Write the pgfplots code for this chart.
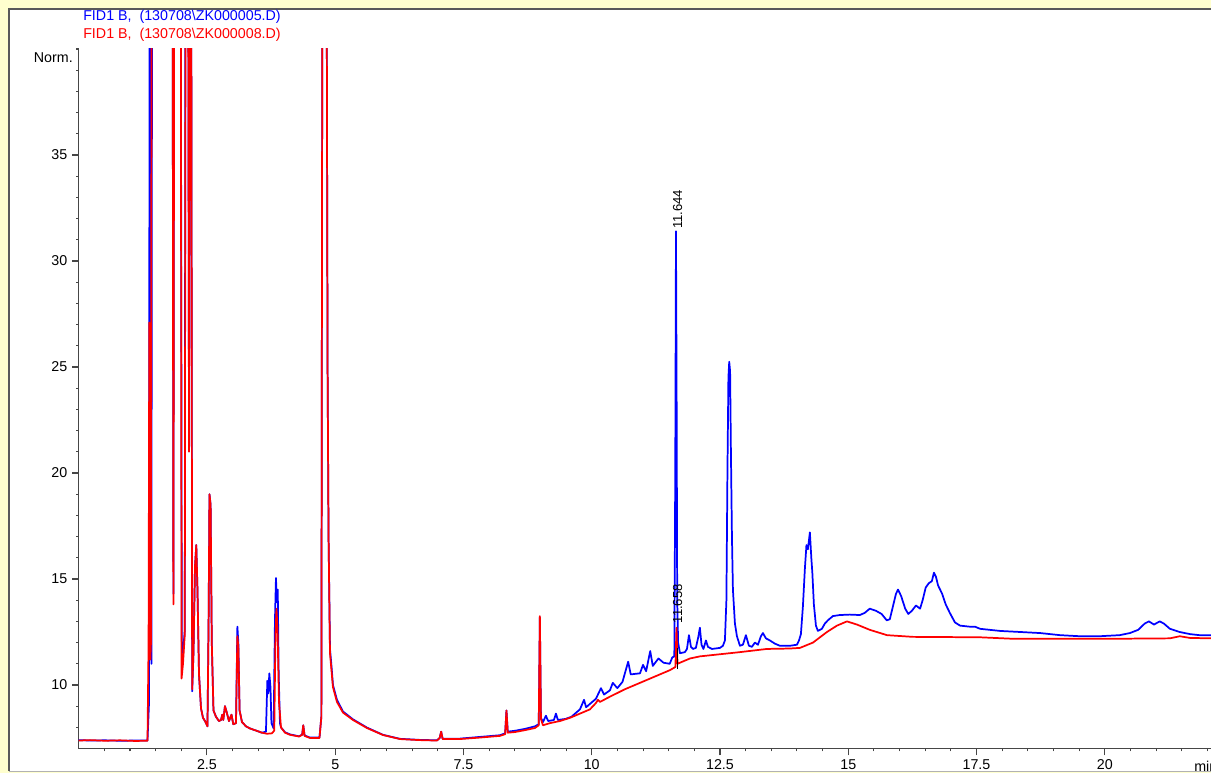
\documentclass[border=0pt]{standalone}
\usepackage{fontspec}
\setmainfont{Liberation Sans}
\usepackage{pgfplots}
\pgfplotsset{compat=1.18}
\definecolor{panelbg}{RGB}{255,255,206}
\definecolor{fidblue}{RGB}{0,0,255}
\definecolor{fidred}{RGB}{255,0,0}
\definecolor{axisgray}{RGB}{70,70,70}
\newcommand\lblfont{\fontsize{10.7}{12}\selectfont}
\newcommand\pkfont{\fontsize{9.8}{11}\selectfont}

\begin{document}
\begin{tikzpicture}
\path[use as bounding box] (0,0) rectangle (908.25pt,579.75pt);
\clip (0,0) rectangle (908.25pt,579.75pt);
% frame and header, in screen pixels (y downwards)
\begin{scope}[shift={(0pt,579.75pt)},x=0.75pt,y=-0.75pt]
  \fill[panelbg] (0,0) rectangle (1211,773);
  \fill[white] (9,9) rectangle (1240,771);
  \draw[gray!70!black,line width=1.1pt] (9,771) -- (9,9) -- (1240,9);
  \draw[gray!60,line width=0.8pt] (9,771.5) -- (1240,771.5);
  \node[anchor=west,inner sep=0,text=fidblue,font=\lblfont] at (83,17) {FID1 B,~~(130708\textbackslash ZK000005.D)};
  \node[anchor=west,inner sep=0,text=fidred,font=\lblfont] at (83,35) {FID1 B,~~(130708\textbackslash ZK000008.D)};
  \node[anchor=east,inner sep=0,font=\lblfont] at (73,57.5) {Norm.};
  \node[anchor=west,inner sep=0,font=\lblfont] at (1194,766) {min};
\end{scope}
\begin{axis}[
  at={(59.025pt,18.3pt)}, anchor=south west,
  scale only axis, width=849.2pt, height=524.7pt,
  xmin=0, xmax=22.07, ymin=7, ymax=40,
  axis x line=bottom, axis y line=left,
  axis line style={-,draw=axisgray,line width=0.9pt},
  every tick/.style={axisgray,line width=0.8pt},
  tick align=outside,
  major tick length=5pt, minor tick length=2pt,
  xtick={2.5,5,7.5,10,12.5,15,17.5,20},
  xticklabels={2.5,5,7.5,10,12.5,15,17.5,20},
  minor xtick={0.5,1,...,22},
  ytick={10,15,20,25,30,35},
  yticklabels={10,15,20,25,30,35},
  minor ytick={8,9,...,40},
  tick label style={font=\lblfont,text=black},
  clip=true,
  every axis plot/.append style={line width=1.3pt,line join=round},
]
% sample ZK000005 (blue)
\addplot[fidblue] coordinates {
(0.000,7.40)(0.220,7.38)(0.513,7.39)(0.805,7.37)(1.097,7.38)(1.341,7.38)
(1.368,9)(1.383,45)(1.405,45)(1.417,11.0)(1.430,45)(1.830,45)(1.846,14.3)(1.862,45)
(1.990,45)(2.009,12.1)(2.033,11.5)(2.068,12.6)(2.080,45)(2.134,45)(2.150,22)(2.165,45)
(2.193,45)(2.212,9.7)(2.237,11.5)(2.267,15.6)(2.292,16.6)(2.315,14.5)(2.345,10.5)
(2.384,8.9)(2.423,8.45)(2.462,8.3)(2.510,8.05)(2.532,13)(2.549,19.0)(2.571,18.5)
(2.594,12)(2.627,8.8)(2.676,8.5)(2.734,8.3)(2.773,8.35)(2.799,8.6)(2.818,8.35)
(2.851,9.0)(2.886,8.7)(2.929,8.3)(2.978,8.6)(3.013,8.15)(3.066,8.2)(3.093,12.75)
(3.112,12.0)(3.136,8.8)(3.183,8.25)(3.261,8.05)(3.339,7.95)(3.456,7.85)(3.572,7.75)
(3.650,7.8)(3.677,10.2)(3.695,9.6)(3.716,10.55)(3.738,9.9)(3.757,8.2)(3.800,7.95)
(3.825,13.0)(3.845,15.05)(3.863,13.9)(3.880,14.5)(3.898,10.5)(3.923,8.2)(3.943,8.0)
(4.021,7.77)(4.118,7.67)(4.294,7.58)(4.356,7.66)(4.377,8.1)(4.403,7.62)(4.508,7.52)
(4.693,7.52)(4.730,8.5)(4.750,45)(4.832,45)(4.851,25)(4.870,17)(4.898,11.7)
(4.927,10.9)(4.956,10.0)(5.034,9.3)(5.151,8.75)(5.346,8.38)(5.619,7.99)(5.931,7.65)
(6.262,7.46)(6.652,7.41)(6.983,7.39)(7.036,7.5)(7.065,7.8)(7.094,7.46)(7.431,7.47)
(7.821,7.55)(8.211,7.63)(8.312,7.72)(8.338,8.8)(8.363,7.8)(8.503,7.84)(8.698,7.93)
(8.893,8.05)(8.967,8.15)(8.989,13.2)(9.010,8.45)(9.049,8.25)(9.107,8.55)(9.150,8.3)
(9.263,8.35)(9.302,8.65)(9.341,8.35)(9.490,8.4)(9.604,8.5)(9.770,8.85)(9.850,9.3)
(9.890,8.95)(10.082,9.35)(10.180,9.85)(10.240,9.55)(10.355,9.75)(10.410,10.1)
(10.500,9.85)(10.600,10.15)(10.710,11.1)(10.760,10.5)(10.940,10.55)(11.000,10.95)
(11.060,10.65)(11.140,11.6)(11.190,10.9)(11.300,11.25)(11.400,11.05)(11.520,11.0)
(11.570,11.3)(11.610,11.35)(11.628,20)(11.642,31.4)(11.654,24)(11.666,14)
(11.684,12.0)(11.720,11.5)(11.817,11.55)(11.856,11.7)(11.895,12.35)(11.934,11.8)
(11.973,11.7)(12.030,11.75)(12.080,12.3)(12.108,12.7)(12.140,11.9)(12.177,11.7)
(12.226,12.1)(12.265,11.8)(12.343,11.7)(12.500,11.75)(12.557,11.85)(12.596,12.1)
(12.625,14)(12.645,20)(12.664,24.5)(12.680,25.25)(12.697,24.8)(12.713,21)(12.733,17)
(12.752,14.5)(12.791,12.9)(12.830,12.3)(12.889,11.85)(12.947,11.9)(13.005,12.35)
(13.064,11.85)(13.122,11.8)(13.180,12.0)(13.240,11.9)(13.298,12.3)(13.337,12.45)
(13.395,12.2)(13.473,12.1)(13.570,11.95)(13.668,11.85)(13.863,11.85)(14.000,11.9)
(14.040,12.1)(14.077,12.4)(14.116,13.7)(14.155,15.5)(14.185,16.6)(14.213,16.4)
(14.252,17.2)(14.280,16.0)(14.300,15.3)(14.330,13.8)(14.370,12.8)(14.408,12.55)
(14.486,12.65)(14.545,12.9)(14.603,13.05)(14.700,13.25)(14.836,13.3)(15.030,13.32)
(15.226,13.3)(15.320,13.4)(15.420,13.6)(15.540,13.5)(15.650,13.35)(15.750,13.05)
(15.810,13.1)(15.870,13.7)(15.930,14.3)(15.970,14.5)(16.030,14.2)(16.110,13.6)
(16.170,13.35)(16.240,13.5)(16.320,13.75)(16.400,13.6)(16.450,14.0)(16.510,14.6)
(16.570,14.8)(16.630,14.9)(16.670,15.3)(16.710,15.1)(16.750,14.7)(16.830,14.3)
(16.900,13.8)(16.980,13.4)(17.080,12.95)(17.180,12.8)(17.370,12.75)(17.470,12.75)
(17.570,12.65)(17.960,12.55)(18.350,12.5)(18.740,12.45)(19.130,12.35)(19.510,12.3)
(19.900,12.3)(20.290,12.35)(20.490,12.45)(20.650,12.6)(20.780,12.9)(20.860,13.0)
(20.960,12.85)(21.070,13.0)(21.150,12.9)(21.270,12.65)(21.460,12.5)(21.660,12.4)
(21.850,12.35)(22.070,12.35)
};
% sample ZK000008 (red)
\addplot[fidred] coordinates {
(0.000,7.38)(0.220,7.40)(0.513,7.37)(0.805,7.39)(1.097,7.36)(1.341,7.37)
(1.362,12)(1.376,27.1)(1.388,19)(1.397,11.2)(1.407,11.9)(1.421,45)(1.830,45)
(1.846,13.8)(1.862,45)(1.990,45)(2.005,10.3)(2.033,11.0)(2.068,12.4)(2.083,45)
(2.134,45)(2.150,21)(2.165,45)(2.193,45)(2.212,9.8)(2.237,11.5)(2.267,15.6)
(2.292,16.6)(2.315,14.5)(2.345,10.5)(2.384,8.9)(2.423,8.45)(2.462,8.3)(2.510,8.05)
(2.532,13)(2.549,19.0)(2.571,18.5)(2.594,12)(2.627,8.8)(2.676,8.5)(2.734,8.3)
(2.773,8.35)(2.799,8.6)(2.818,8.35)(2.851,9.0)(2.886,8.7)(2.929,8.3)(2.978,8.6)
(3.013,8.15)(3.066,8.2)(3.093,12.3)(3.112,11.8)(3.136,8.8)(3.183,8.25)(3.261,8.05)
(3.339,7.95)(3.456,7.85)(3.572,7.75)(3.670,7.7)(3.767,7.72)(3.812,7.85)(3.835,12.3)
(3.855,13.6)(3.876,12.6)(3.904,9.2)(3.943,8.0)(4.021,7.75)(4.118,7.65)(4.294,7.57)
(4.356,7.65)(4.377,8.1)(4.403,7.6)(4.508,7.5)(4.693,7.5)(4.730,8.5)(4.750,45)
(4.832,45)(4.851,25)(4.870,17)(4.898,11.5)(4.927,10.7)(4.956,9.9)(5.034,9.2)
(5.151,8.7)(5.346,8.35)(5.619,7.97)(5.931,7.64)(6.262,7.45)(6.652,7.4)(6.983,7.38)
(7.036,7.5)(7.065,7.8)(7.094,7.45)(7.431,7.45)(7.821,7.52)(8.211,7.6)(8.312,7.68)
(8.338,8.8)(8.363,7.75)(8.503,7.78)(8.698,7.87)(8.893,7.97)(8.967,8.1)(8.989,13.25)
(9.010,8.4)(9.049,8.1)(9.185,8.2)(9.380,8.3)(9.575,8.45)(9.770,8.65)(9.965,8.85)
(10.082,9.15)(10.121,9.3)(10.160,9.2)(10.355,9.45)(10.647,9.8)(10.940,10.1)
(11.134,10.3)(11.329,10.5)(11.524,10.7)(11.631,10.85)(11.652,12.7)(11.672,11.0)
(11.719,11.05)(11.914,11.25)(12.109,11.35)(12.499,11.45)(12.888,11.55)(13.414,11.7)
(13.863,11.72)(14.058,11.75)(14.312,12.0)(14.585,12.5)(14.780,12.8)(14.975,13.0)
(15.170,12.85)(15.422,12.6)(15.756,12.35)(16.262,12.27)(17.568,12.25)(18.209,12.18)
(20.158,12.18)(21.269,12.2)(21.463,12.3)(21.658,12.22)(22.070,12.2)
};
% integration marker and retention-time labels
\addplot[black,line width=0.6pt] coordinates {(11.664,10.75) (11.664,11.75)};
\node[rotate=90,anchor=west,inner sep=0,font=\pkfont] at (axis cs:11.672,31.5) {11.644};
\node[rotate=90,anchor=west,inner sep=0,font=\pkfont] at (axis cs:11.672,12.9) {11.658};
\end{axis}
\end{tikzpicture}
\end{document}
